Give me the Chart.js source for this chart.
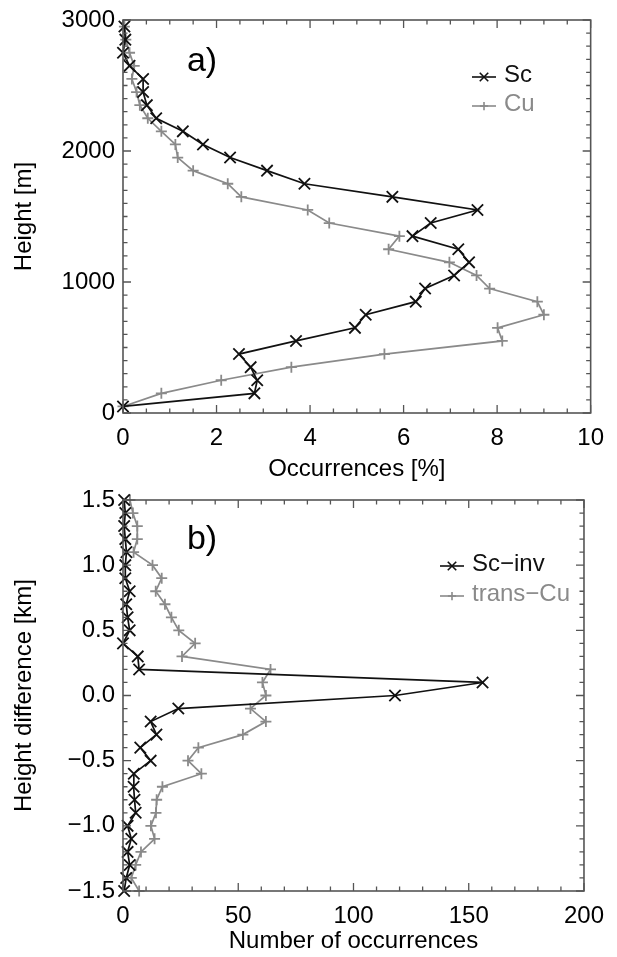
<!DOCTYPE html>
<html>
<head>
<meta charset="utf-8">
<script src="https://cdn.jsdelivr.net/npm/chart.js@4.4.1/dist/chart.umd.min.js"></script>
<style>
  body { margin: 0; background: #fff; }
  canvas { position: absolute; left: 0; }
  #chartA { top: 0; }
  #chartB { top: 480px; }
</style>
</head>
<body>
<canvas id="chartA" width="617" height="490"></canvas>
<canvas id="chartB" width="617" height="477"></canvas>
<script>
// panel a: occurrence profiles
const heightsM = [50, 150, 250, 350, 450, 550, 650, 750, 850, 950,
  1050, 1150, 1250, 1350, 1450, 1550, 1650, 1750, 1850, 1950,
  2050, 2150, 2250, 2350, 2450, 2550, 2650, 2750, 2850, 2950];
const scOcc = [0, 2.81, 2.87, 2.73, 2.48, 3.70, 4.96, 5.19, 6.26, 6.46,
  7.08, 7.40, 7.17, 6.19, 6.58, 7.58, 5.76, 3.88, 3.08, 2.29,
  1.71, 1.28, 0.71, 0.51, 0.43, 0.43, 0.14, 0.0, 0.05, 0.03];
const cuOcc = [0, 0.82, 2.10, 3.60, 5.59, 8.11, 8.01, 9.00, 8.86, 7.84,
  7.56, 6.98, 5.68, 5.91, 4.41, 3.95, 2.53, 2.24, 1.50, 1.17,
  1.12, 0.82, 0.53, 0.36, 0.29, 0.19, 0.24, 0.14, 0.06, 0.03];

// panel b: height difference histogram
const heightDiffKm = [-1.5, -1.4, -1.3, -1.2, -1.1, -1.0, -0.9, -0.8, -0.7, -0.6,
  -0.5, -0.4, -0.3, -0.2, -0.1, 0.0, 0.1, 0.2, 0.3, 0.4,
  0.5, 0.6, 0.7, 0.8, 0.9, 1.0, 1.1, 1.2, 1.3, 1.4, 1.5];
const scInvCount = [0.5, 1.4, 2.9, 2, 3.6, 2, 5.5, 5, 4.6, 4.7,
  12, 7.5, 14.5, 12, 24, 118, 156, 7, 6.4, 0,
  2.9, 2, 1.4, 2.9, 1, 1, 1.5, 1, 0.5, 1, 0.5];
const transCuCount = [7, 3.6, 5.5, 7.8, 13.7, 12.1, 14.3, 14.6, 17.1, 34,
  28.2, 32.7, 52, 62, 55.3, 62, 60.5, 64, 25.6, 31.3,
  24.2, 21, 18.2, 14.2, 16.8, 12.8, 4.6, 6.2, 6.2, 4.3, 3];

const BLACK = '#111111';
const GRAY = '#8a8a8a';
const FRAME = '#555555';

Chart.defaults.font.family = "'Liberation Sans', Arial, sans-serif";
Chart.defaults.font.size = 24;
Chart.defaults.color = '#000';

const toPoints = (xs, ys) => xs.map((v, i) => ({ x: v, y: ys[i] }));

// IDL style box with inward ticks on all four sides
const idlBox = {
  id: 'idlBox',
  afterDatasetsDraw(chart, args, opts) {
    const { ctx, chartArea: a, scales: { x, y } } = chart;
    ctx.save();
    ctx.strokeStyle = FRAME;
    ctx.lineWidth = 1.6;
    ctx.strokeRect(a.left, a.top, a.right - a.left, a.bottom - a.top);
    ctx.lineWidth = 1.3;
    const n = Math.round((x.max - x.min) / opts.xMinor);
    for (let i = 0; i <= n; i++) {
      const px = x.getPixelForValue(x.min + i * opts.xMinor);
      const len = i % opts.xEvery === 0 ? 8 : 4.5;
      ctx.beginPath();
      ctx.moveTo(px, a.bottom); ctx.lineTo(px, a.bottom - len);
      ctx.moveTo(px, a.top); ctx.lineTo(px, a.top + len);
      ctx.stroke();
    }
    const m = Math.round((y.max - y.min) / opts.yMinor);
    for (let i = 0; i <= m; i++) {
      const py = y.getPixelForValue(y.min + i * opts.yMinor);
      const len = i % opts.yEvery === 0 ? 8 : 4.5;
      ctx.beginPath();
      ctx.moveTo(a.left, py); ctx.lineTo(a.left + len, py);
      ctx.moveTo(a.right, py); ctx.lineTo(a.right - len, py);
      ctx.stroke();
    }
    ctx.restore();
  }
};

// legend with a short line and the marker, plus the panel letter
const idlLegend = {
  id: 'idlLegend',
  afterDraw(chart, args, opts) {
    const { ctx } = chart;
    ctx.save();
    chart.data.datasets.forEach((ds, i) => {
      const yy = opts.y + i * opts.rowGap;
      ctx.strokeStyle = ds.borderColor;
      ctx.lineWidth = 1.6;
      ctx.beginPath();
      ctx.moveTo(opts.x, yy);
      ctx.lineTo(opts.x + 24, yy);
      ctx.stroke();
      Chart.helpers.drawPoint(ctx, {
        pointStyle: ds.pointStyle, radius: ds.pointRadius * 0.75,
        borderWidth: ds.pointBorderWidth, rotation: 0
      }, opts.x + 12, yy);
      ctx.fillStyle = ds.borderColor;
      ctx.font = "24px 'Liberation Sans', Arial, sans-serif";
      ctx.textBaseline = 'middle';
      ctx.textAlign = 'left';
      ctx.fillText(ds.label, opts.x + 32, yy - 2);
    });
    ctx.fillStyle = '#000';
    ctx.font = "34px 'Liberation Sans', Arial, sans-serif";
    ctx.textAlign = 'center';
    ctx.textBaseline = 'middle';
    ctx.fillText(opts.letter, opts.letterX, opts.letterY);
    ctx.restore();
  }
};

function series(label, pts, color, style, radius) {
  return {
    label: label,
    data: pts,
    showLine: true,
    borderColor: color,
    backgroundColor: color,
    borderWidth: 1.7,
    pointStyle: style,
    pointRadius: radius,
    pointBorderWidth: 1.8,
    pointBorderColor: color,
    tension: 0,
    clip: false
  };
}

function panel(canvasId, cfg) {
  return new Chart(document.getElementById(canvasId), {
    type: 'scatter',
    data: { datasets: cfg.datasets },
    plugins: [idlBox, idlLegend],
    options: {
      responsive: false,
      animation: false,
      layout: { padding: { left: 0, right: 25, top: cfg.top, bottom: 0 } },
      plugins: {
        legend: { display: false },
        tooltip: { enabled: false },
        idlBox: cfg.box,
        idlLegend: cfg.legend
      },
      scales: {
        x: {
          type: 'linear', min: cfg.xMin, max: cfg.xMax,
          grid: { display: false, drawTicks: false },
          border: { display: false },
          ticks: { stepSize: cfg.xStep, padding: 13, font: { size: 24, lineHeight: 1 }, maxRotation: 0 },
          title: { display: true, text: cfg.xTitle, font: { size: 24, lineHeight: 1 }, padding: { top: 0, bottom: cfg.xTitlePad } },
          afterFit: (s) => { s.height = cfg.xHeight; }
        },
        y: {
          type: 'linear', min: cfg.yMin, max: cfg.yMax,
          grid: { display: false, drawTicks: false },
          border: { display: false },
          ticks: { stepSize: cfg.yStep, padding: 8, font: { size: 24, lineHeight: 1 }, callback: cfg.yFmt },
          title: { display: true, text: cfg.yTitle, font: { size: 24, lineHeight: 1 }, padding: { top: 12, bottom: 0 } },
          afterFit: (s) => { s.width = 123; }
        }
      }
    }
  });
}

panel('chartA', {
  datasets: [
    series('Sc', toPoints(scOcc, heightsM), BLACK, 'crossRot', 8),
    series('Cu', toPoints(cuOcc, heightsM), GRAY, 'cross', 5.5)
  ],
  top: 16, xHeight: 77,
  xMin: 0, xMax: 10, xStep: 2, xTitle: 'Occurrences [%]', xTitlePad: 9,
  yMin: 0, yMax: 3000, yStep: 1000, yTitle: 'Height [m]',
  yFmt: (v) => String(v),
  box: { xMinor: 0.5, xEvery: 4, yMinor: 100, yEvery: 10 },
  legend: { x: 472, y: 77, rowGap: 29, letter: 'a)', letterX: 202, letterY: 62 }
});

panel('chartB', {
  datasets: [
    series('Sc\u2212inv', toPoints(scInvCount, heightDiffKm), BLACK, 'crossRot', 8),
    series('trans\u2212Cu', toPoints(transCuCount, heightDiffKm), GRAY, 'cross', 5.5)
  ],
  top: 14, xHeight: 66,
  xMin: 0, xMax: 200, xStep: 50, xTitle: 'Number of occurrences', xTitlePad: 4,
  yMin: -1.5, yMax: 1.5, yStep: 0.5, yTitle: 'Height difference [km]',
  yFmt: (v) => (v < 0 ? '\u2212' : '') + Math.abs(v).toFixed(1),
  box: { xMinor: 10, xEvery: 5, yMinor: 0.1, yEvery: 5 },
  legend: { x: 440, y: 86, rowGap: 30, letter: 'b)', letterX: 202, letterY: 60 }
});
</script>
</body>
</html>
